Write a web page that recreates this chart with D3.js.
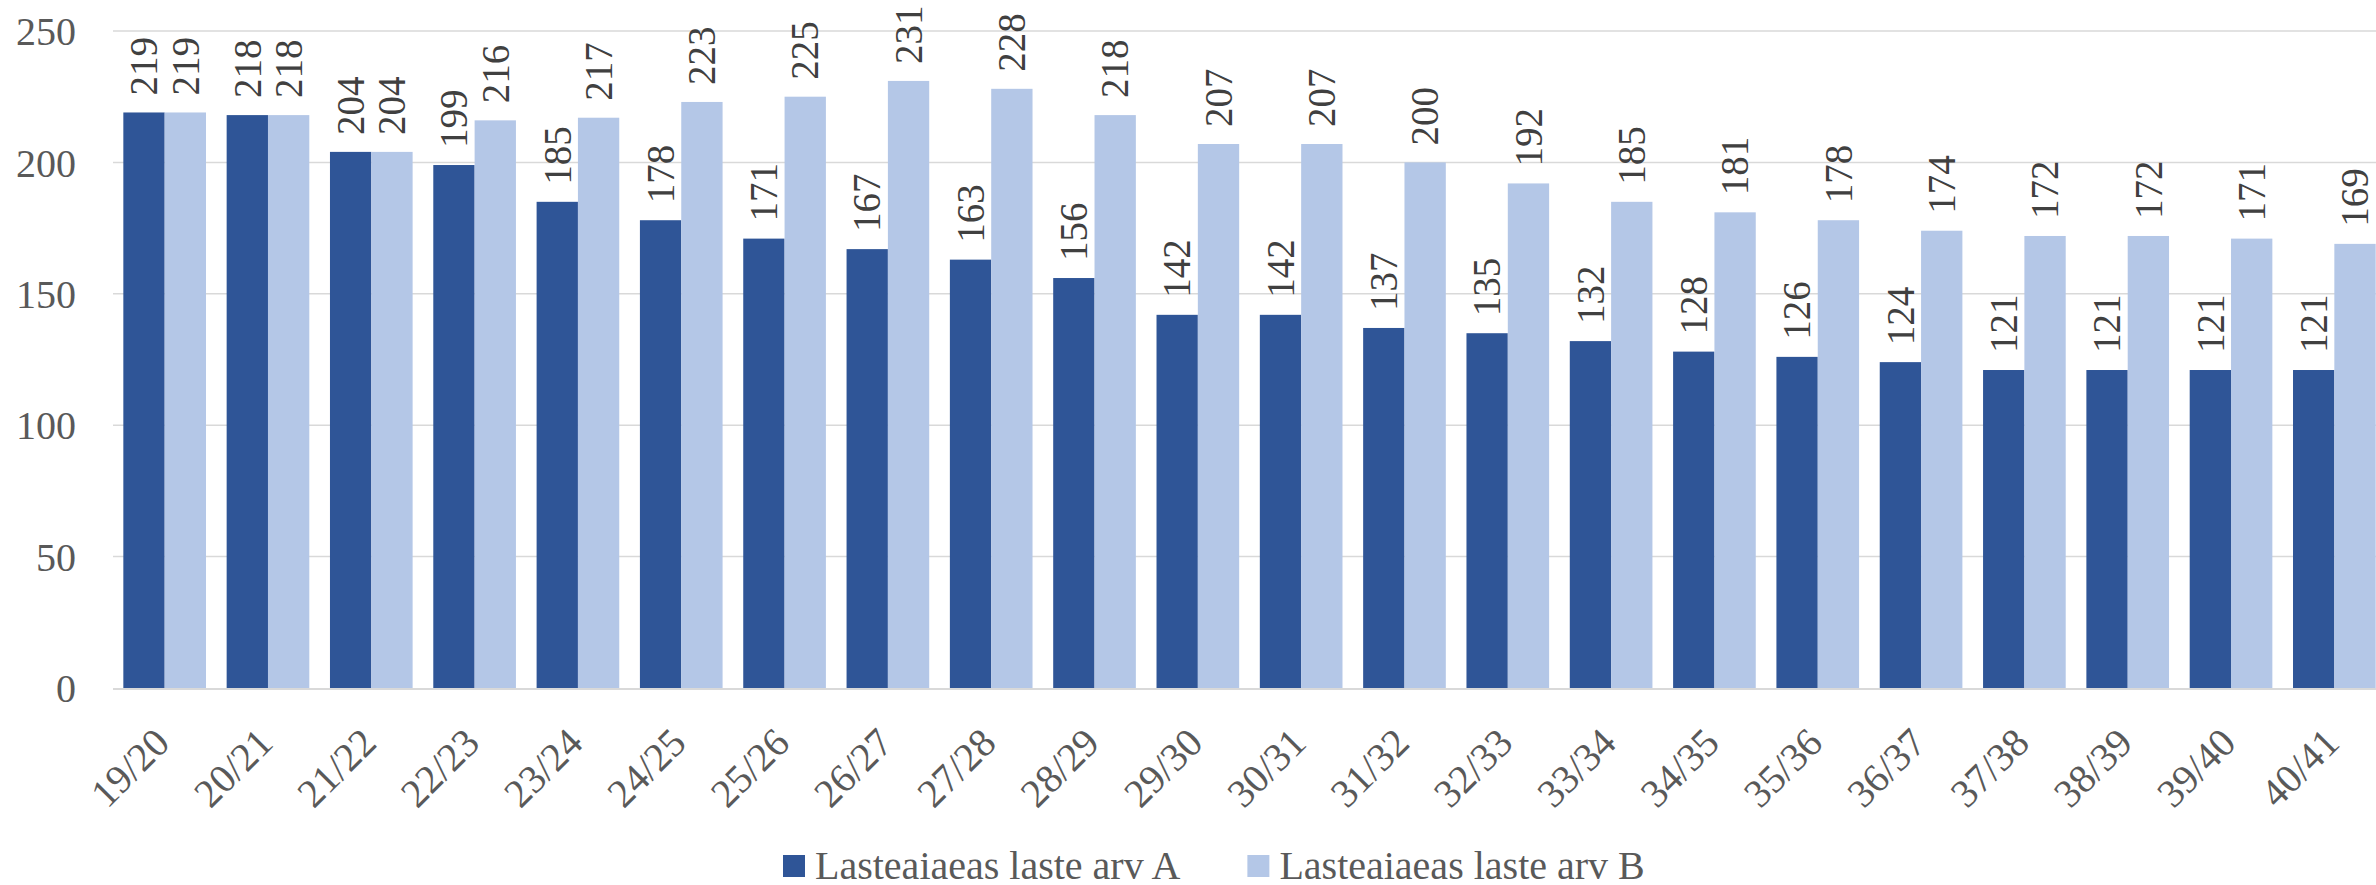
<!DOCTYPE html>
<html><head><meta charset="utf-8">
<script src="https://cdn.jsdelivr.net/npm/d3@7"></script>
<style>
html,body{margin:0;padding:0;background:#fff;overflow:hidden;}
svg{display:block;}
</style></head>
<body>
<svg id="chart" width="2376" height="885"></svg>
<script>
const categories = ["19/20","20/21","21/22","22/23","23/24","24/25","25/26","26/27","27/28","28/29","29/30","30/31","31/32","32/33","33/34","34/35","35/36","36/37","37/38","38/39","39/40","40/41"];
const seriesA = [219,218,204,199,185,178,171,167,163,156,142,142,137,135,132,128,126,124,121,121,121,121];
const seriesB = [219,218,204,216,217,223,225,231,228,218,207,207,200,192,185,181,178,174,172,172,171,169];
const seriesNames = ["Lasteaiaeas laste arv A","Lasteaiaeas laste arv B"];
const yTicks = [0,50,100,150,200,250];
const colors = ["#2F5597","#B4C7E7"];

(function(){
const FONT = '"Liberation Serif"';
const svg = d3.select("#chart");
const mLeft = 113, mRight = 2386, mTop = 31, mBottom = 688;

const x = d3.scaleBand().domain(categories).range([mLeft, mRight]).paddingInner(0.2).paddingOuter(0.1);
const xs = d3.scaleBand().domain([0,1]).range([0, x.bandwidth()]);
const y = d3.scaleLinear().domain([0,250]).range([mBottom, mTop]);

// gridlines
svg.append("g").selectAll("line").data(yTicks.filter(t=>t>0)).join("line")
  .attr("x1", mLeft).attr("x2", mRight)
  .attr("y1", d=>y(d)).attr("y2", d=>y(d))
  .attr("stroke", "#d9d9d9").attr("stroke-width", 1.5);

// y axis labels
const yAxis = d3.axisLeft(y).tickValues(yTicks).tickSize(0).tickPadding(0);
const gy = svg.append("g").attr("transform", `translate(76,0)`).call(yAxis);
gy.attr("font-family", null);
gy.select(".domain").remove();
gy.selectAll("text").style("font-family", FONT).attr("font-size", 40)
  .attr("fill", "#595959").attr("dy", "0.34em");

// bars
const series = [seriesA, seriesB];
series.forEach((vals, si) => {
  const g = svg.append("g");
  g.selectAll("rect").data(vals).join("rect")
    .attr("x", (d,i)=>x(categories[i]) + xs(si))
    .attr("width", xs.bandwidth())
    .attr("y", d=>y(d))
    .attr("height", d=>y(0)-y(d))
    .attr("fill", colors[si]);
  g.selectAll("text").data(vals).join("text")
    .attr("transform", (d,i)=>`translate(${x(categories[i]) + xs(si) + xs.bandwidth()/2},${y(d)-17}) rotate(-90)`)
    .attr("dy", "0.34em")
    .attr("text-anchor", "start")
    .style("font-family", FONT).attr("font-size", 39)
    .attr("fill", "#404040")
    .text(d=>d);
});

// x axis line
svg.append("line").attr("x1", mLeft).attr("x2", mRight).attr("y1", mBottom+1).attr("y2", mBottom+1)
  .attr("stroke", "#d9d9d9").attr("stroke-width", 2);

// x axis labels
const xAxis = d3.axisBottom(x).tickSize(0).tickPadding(0);
const gx = svg.append("g").attr("transform", `translate(0,${mBottom})`).call(xAxis);
gx.attr("font-family", null);
gx.select(".domain").remove();
gx.selectAll("text")
  .style("font-family", FONT).attr("font-size", 40)
  .attr("fill", "#595959")
  .attr("text-anchor", "end")
  .attr("y", 0).attr("dy", 0)
  .attr("transform", "translate(7,57) rotate(-45)");

// legend
const lg = svg.append("g");
let lx = 783;
seriesNames.forEach((name, i) => {
  lg.append("rect").attr("x", lx).attr("y", 855).attr("width", 22).attr("height", 22).attr("fill", colors[i]);
  const t = lg.append("text").attr("x", lx + 32).attr("y", 879)
    .style("font-family", FONT).attr("font-size", 40)
    .attr("fill", "#595959").text(name);
  lx += 32 + t.node().getComputedTextLength() + 67;
});
})();
</script>
</body></html>
